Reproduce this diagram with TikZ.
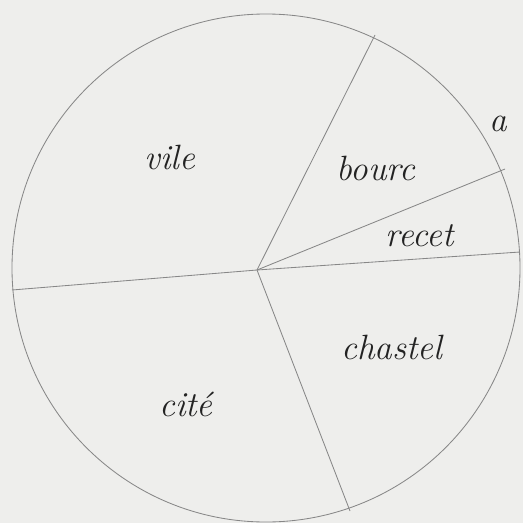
\documentclass[tikz,border=0pt]{standalone}
\usepackage{tikz}
\usetikzlibrary{positioning}
\usetikzlibrary{calc}
\definecolor{paper}{RGB}{238,238,236}
\definecolor{pencil}{RGB}{135,135,135}
\definecolor{ink}{RGB}{35,35,35}

\begin{document}
\begin{tikzpicture}[x=0.05cm, y=-0.05cm, every node/.style={font=\fontsize{50}{56}\selectfont\itshape, text=ink}]
    \fill[paper] (0,0) rectangle (523,523);
    \useasboundingbox (0,0) rectangle (523,523);

    % the town circle
    \coordinate (centre) at (266,268);
    \draw[pencil, line width=1.2pt] (centre) circle (254);

    % partition lines from the hub
    \coordinate (hub) at (257,270);
    \foreach \n/\x/\y in {top/375/35, bourc/505/169, recet/520/252, west/12/290, south/350/511} {
        \coordinate (\n) at (\x,\y);
        \draw[pencil, line width=1.2pt] (hub) -- (\n);
    }

    % quarter names
    \foreach \n/\x/\y/\w in {vile/170/157/vile, bourcl/376/168/bourc, recetl/420/236/recet, chastel/392/347/chastel, cite/186/404/cit\'e} {
        \node (\n) at (\x,\y) {\w};
    }
    \node (a) at (498,124) {a};
\end{tikzpicture}
\end{document}
